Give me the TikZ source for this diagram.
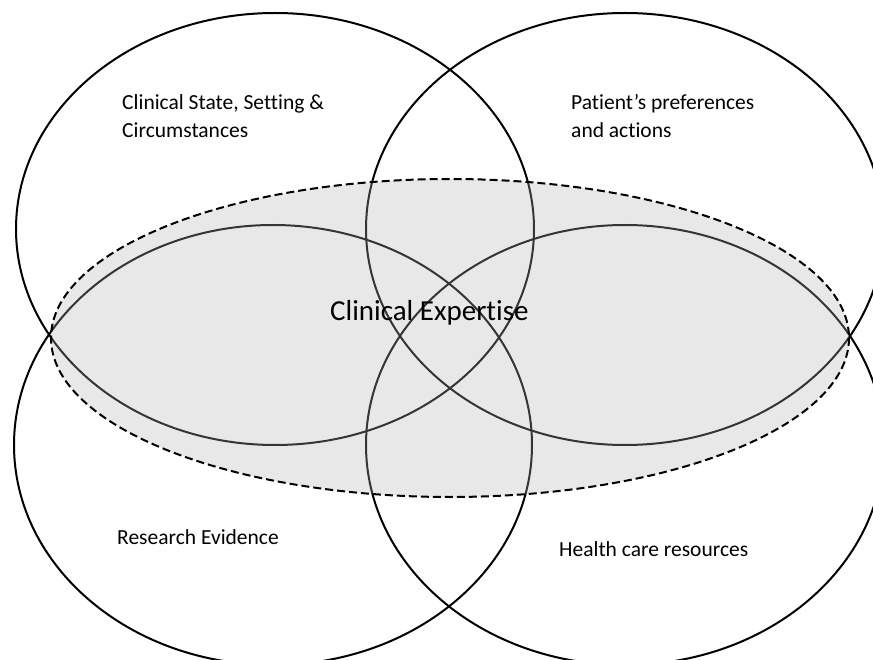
\documentclass[tikz,border=0pt]{standalone}
\usepackage{fontspec}
\setmainfont{Carlito}[Ligatures=NoCommon]
\begin{document}
\begin{tikzpicture}[x=1pt,y=-1pt,
  ring/.style={draw=black, line width=2pt},
  zone/.style={draw=black, dash pattern=on 8pt off 4pt, line width=2pt,
               fill=black!30, fill opacity=0.3},
  lbl/.style={font=\fontsize{21.5}{28}\selectfont, align=left, inner sep=0pt, anchor=base west},
  big/.style={font=\fontsize{29}{32}\selectfont, inner sep=0pt, anchor=base west}]
\useasboundingbox (0,0) rectangle (873,660);
\begin{scope}
  \clip (0,0) rectangle (873,660);
  % the four overlapping domains
  \draw[ring] (275,229) ellipse [x radius=259, y radius=216];
  \draw[ring] (625,229) ellipse [x radius=259, y radius=216];
  \draw[ring] (273,445) ellipse [x radius=259, y radius=220];
  \draw[ring] (625,445) ellipse [x radius=259, y radius=220];
  % shaded clinical expertise region
  \draw[zone] (450,338) ellipse [x radius=399, y radius=159];
\end{scope}
% two-line labels are anchored at the baseline of their last line
\node[lbl] (state) at (122,138) {Clinical State, Setting \&\\Circumstances};
\node[lbl] (pref) at (571,138) {Patient’s preferences\\and actions};
\node[lbl] (evid) at (117,544) {Research Evidence};
\node[lbl] (res) at (559,556) {Health care resources};
\node[big] (exp) at (330,321) {Clinical Expertise};
\end{tikzpicture}
\end{document}
